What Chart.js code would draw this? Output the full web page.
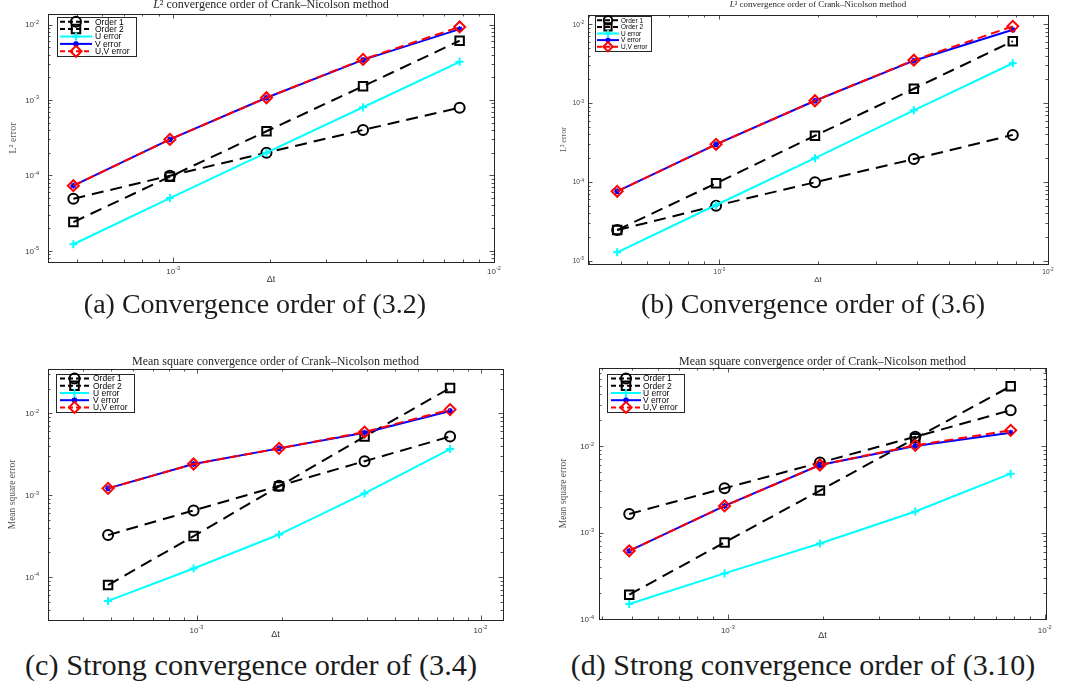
<!DOCTYPE html>
<html>
<head>
<meta charset="utf-8">
<script src="https://cdn.jsdelivr.net/npm/chart.js@4.4.1/dist/chart.umd.min.js"></script>
<style>
  html, body { margin: 0; padding: 0; background: #fff; }
  body { width: 1070px; height: 691px; position: relative; overflow: hidden; }
  .panel { position: absolute; }
  .caption {
    position: absolute; transform: translate(-50%, -50%);
    font-family: 'Liberation Serif', serif; color: #1c1c1c; white-space: nowrap;
  }
</style>
</head>
<body>
<div class="panel" style="left:0;top:0;width:535px;height:290px"><canvas id="chartA"></canvas></div>
<div class="panel" style="left:535px;top:0;width:535px;height:290px"><canvas id="chartB"></canvas></div>
<div class="panel" style="left:0;top:330px;width:535px;height:314px"><canvas id="chartC"></canvas></div>
<div class="panel" style="left:535px;top:330px;width:535px;height:314px"><canvas id="chartD"></canvas></div>

<div class="caption" style="left:255px;top:304px;font-size:28px">(a) Convergence order of (3.2)</div>
<div class="caption" style="left:813px;top:304px;font-size:28px">(b) Convergence order of (3.6)</div>
<div class="caption" style="left:251px;top:665px;font-size:30.3px">(c) Strong convergence order of (3.4)</div>
<div class="caption" style="left:803px;top:665px;font-size:30px">(d) Strong convergence order of (3.10)</div>

<script>
// time steps (1/2048 ... 1/128)
const DT = [4.883e-4, 9.766e-4, 1.953e-3, 3.906e-3, 7.813e-3];
const SERIES_LABELS = ['Order 1', 'Order 2', 'U error', 'V error', 'U,V error'];

// (a) L2 convergence, (3.2)
const A_ORDER1 = [4.9e-5, 9.9e-5, 2.0e-4, 4.0e-4, 7.9e-4];
const A_ORDER2 = [2.4e-5, 9.6e-5, 3.85e-4, 1.52e-3, 6.1e-3];
const A_UERR   = [1.22e-5, 5.0e-5, 2.0e-4, 8.0e-4, 3.2e-3];
const A_VERR   = [7.3e-5, 3.0e-4, 1.07e-3, 3.4e-3, 8.7e-3];
const A_UVERR  = [7.3e-5, 3.0e-4, 1.07e-3, 3.45e-3, 9.3e-3];
const A_X_RANGE = [4.07e-4, 1e-2];
const A_Y_RANGE = [7.1e-6, 1.38e-2];

// (b) L2 convergence, (3.6)
const B_ORDER1 = [2.45e-5, 5.0e-5, 9.9e-5, 1.95e-4, 3.95e-4];
const B_ORDER2 = [2.45e-5, 9.6e-5, 3.85e-4, 1.52e-3, 6.1e-3];
const B_UERR   = [1.28e-5, 5.1e-5, 2.0e-4, 8.1e-4, 3.2e-3];
const B_VERR   = [7.6e-5, 3.0e-4, 1.07e-3, 3.45e-3, 8.5e-3];
const B_UVERR  = [7.6e-5, 3.0e-4, 1.07e-3, 3.5e-3, 9.4e-3];
const B_X_RANGE = [3.98e-4, 1e-2];
const B_Y_RANGE = [9.1e-6, 1.31e-2];

// (c) mean square convergence, (3.4)
const C_ORDER1 = [3.25e-4, 6.5e-4, 1.3e-3, 2.6e-3, 5.2e-3];
const C_ORDER2 = [7.96e-5, 3.16e-4, 1.28e-3, 5.2e-3, 2.04e-2];
const C_UERR   = [5.1e-5, 1.27e-4, 3.3e-4, 1.05e-3, 3.66e-3];
const C_VERR   = [1.21e-3, 2.4e-3, 3.73e-3, 5.8e-3, 1.07e-2];
const C_UVERR  = [1.21e-3, 2.4e-3, 3.73e-3, 5.9e-3, 1.11e-2];
const C_X_RANGE = [3.27e-4, 1.2e-2];
const C_Y_RANGE = [2.98e-5, 3.48e-2];

// (d) mean square convergence, (3.10)
const D_ORDER1 = [1.64e-3, 3.25e-3, 6.44e-3, 1.28e-2, 2.6e-2];
const D_ORDER2 = [1.91e-4, 7.69e-4, 3.06e-3, 1.23e-2, 4.92e-2];
const D_UERR   = [1.49e-4, 3.37e-4, 7.48e-4, 1.75e-3, 4.8e-3];
const D_VERR   = [6.15e-4, 2.03e-3, 6.04e-3, 1.0e-2, 1.43e-2];
const D_UVERR  = [6.15e-4, 2.03e-3, 6.04e-3, 1.02e-2, 1.52e-2];
const D_X_RANGE = [3.92e-4, 1.01e-2];
const D_Y_RANGE = [1e-4, 8e-2];

const TITLE_L2 = [['L', 'italic '], ['\u00b2 convergence order of Crank\u2013Nicolson method', '']];
const TITLE_MS = [['Mean square convergence order of Crank\u2013Nicolson method', '']];

// line styles, same order as SERIES_LABELS
const STYLES = [
  { color: '#000000', dash: [12, 7], point: 'circle',  r: 5,   pw: 2,   order: 4 },
  { color: '#000000', dash: [12, 7], point: 'rect',    r: 6,   pw: 2,   order: 3 },
  { color: '#00ffff', dash: [],      point: 'cross',   r: 4,   pw: 2,   order: 2 },
  { color: '#0000ff', dash: [],      point: 'star',    r: 3,   pw: 1.5, order: 1 },
  { color: '#ff0000', dash: [9, 5],  point: 'rectRot', r: 5.5, pw: 2,   order: 0 }
];

const SANS = '"Liberation Sans", Arial, sans-serif';
const SERIF = '"Liberation Serif", serif';

function drawMarker(ctx, style, x, y, r, color, lw) {
  ctx.save();
  ctx.strokeStyle = color; ctx.lineWidth = lw; ctx.setLineDash([]);
  ctx.beginPath();
  if (style === 'circle') ctx.arc(x, y, r, 0, Math.PI * 2);
  else if (style === 'rect') { const s = r * Math.SQRT1_2; ctx.rect(x - s, y - s, 2 * s, 2 * s); }
  else if (style === 'rectRot') { ctx.moveTo(x, y - r); ctx.lineTo(x + r, y); ctx.lineTo(x, y + r); ctx.lineTo(x - r, y); ctx.closePath(); }
  else {
    ctx.moveTo(x, y - r); ctx.lineTo(x, y + r); ctx.moveTo(x - r, y); ctx.lineTo(x + r, y);
    if (style === 'star') {
      const d = r * Math.SQRT1_2;
      ctx.moveTo(x - d, y - d); ctx.lineTo(x + d, y + d); ctx.moveTo(x - d, y + d); ctx.lineTo(x + d, y - d);
    }
  }
  ctx.stroke();
  ctx.restore();
}

// "10" with a raised exponent; align 'right' or 'center'
function drawPow(ctx, e, x, baseY, align, size) {
  const ex = String(e);
  ctx.font = size + 'px ' + SANS;
  const w1 = ctx.measureText('10').width;
  ctx.font = (size * 0.7).toFixed(2) + 'px ' + SANS;
  const w2 = ctx.measureText(ex).width;
  const x0 = align === 'right' ? x - w1 - w2 : x - (w1 + w2) / 2;
  ctx.font = size + 'px ' + SANS;
  ctx.fillText('10', x0, baseY);
  ctx.font = (size * 0.7).toFixed(2) + 'px ' + SANS;
  ctx.fillText(ex, x0 + w1, baseY - size * 0.42);
}

// box, inward ticks, tick labels, title and legend in the MATLAB look
const framePlugin = {
  id: 'frame',
  afterDraw(chart, args, opts) {
    const { ctx, chartArea: a } = chart;
    const xs = chart.scales.x, ys = chart.scales.y;
    ctx.save();
    ctx.strokeStyle = '#262626';
    ctx.lineWidth = 0.8;

    const eachLogTick = (scale, fn) => {
      const lo = Math.floor(Math.log10(scale.min)), hi = Math.ceil(Math.log10(scale.max));
      for (let e = lo; e <= hi; e++) {
        for (let k = 1; k <= 9; k++) {
          const v = k * Math.pow(10, e);
          if (v < scale.min * 0.9999 || v > scale.max * 1.0001) continue;
          fn(scale.getPixelForValue(v), k === 1, e);
        }
      }
    };
    ctx.beginPath();
    eachLogTick(xs, (px, major) => {
      const p = Math.round(px) + 0.5, len = major ? 4.5 : 2.5;
      ctx.moveTo(p, a.bottom); ctx.lineTo(p, a.bottom - len);
      ctx.moveTo(p, a.top); ctx.lineTo(p, a.top + len);
    });
    eachLogTick(ys, (px, major) => {
      const p = Math.round(px) + 0.5, len = major ? 4.5 : 2.5;
      ctx.moveTo(a.left, p); ctx.lineTo(a.left + len, p);
      ctx.moveTo(a.right, p); ctx.lineTo(a.right - len, p);
    });
    ctx.stroke();

    ctx.lineWidth = 1;
    ctx.strokeRect(Math.round(a.left) + 0.5, Math.round(a.top) + 0.5,
      Math.round(a.right - a.left), Math.round(a.bottom - a.top));

    // tick labels at the decades
    ctx.fillStyle = '#3a3a3a';
    ctx.textBaseline = 'alphabetic';
    ctx.textAlign = 'left';
    const ts = opts.tickSize;
    eachLogTick(xs, (px, major, e) => {
      if (major) drawPow(ctx, e, px, a.bottom + opts.xLabOff, 'center', ts);
    });
    eachLogTick(ys, (px, major, e) => {
      if (major) drawPow(ctx, e, a.left - opts.yLabPad, px + ts * 0.36, 'right', ts);
    });

    // title
    ctx.fillStyle = '#262626';
    ctx.textBaseline = 'middle';
    let total = 0;
    opts.title.forEach(([t, st]) => { ctx.font = st + opts.titleSize + 'px ' + SERIF; total += ctx.measureText(t).width; });
    let tx = (a.left + a.right) / 2 - total / 2;
    const ty = a.top - opts.titleGap;
    opts.title.forEach(([t, st]) => {
      ctx.font = st + opts.titleSize + 'px ' + SERIF;
      ctx.fillText(t, tx, ty);
      tx += ctx.measureText(t).width;
    });

    // legend
    const L = opts.legend;
    const bx = Math.round(a.left + L.x), by = Math.round(a.top + L.y);
    ctx.fillStyle = '#ffffff';
    ctx.fillRect(bx, by, L.w, L.h);
    ctx.strokeStyle = '#262626';
    ctx.lineWidth = 1;
    ctx.strokeRect(bx + 0.5, by + 0.5, L.w, L.h);
    const rowH = (L.h - 2) / chart.data.datasets.length;
    chart.data.datasets.forEach((ds, i) => {
      const y = by + 1 + rowH * (i + 0.5);
      const x0 = bx + L.s0, x1 = bx + L.s1;
      ctx.save();
      ctx.strokeStyle = ds.borderColor;
      ctx.lineWidth = ds.borderWidth;
      ctx.setLineDash(ds.borderDash.length ? [5, 3] : []);
      ctx.beginPath(); ctx.moveTo(x0, y); ctx.lineTo(x1, y); ctx.stroke();
      ctx.restore();
      drawMarker(ctx, ds.pointStyle, (x0 + x1) / 2, y, ds.pointRadius * L.ms, ds.borderColor, ds.pointBorderWidth);
      ctx.fillStyle = '#000000';
      ctx.font = L.font + 'px ' + SANS;
      ctx.fillText(ds.label, bx + L.tx, y + 0.5);
    });
    ctx.restore();
  }
};

function buildDatasets(series) {
  return series.map((vals, i) => {
    const st = STYLES[i];
    return {
      label: SERIES_LABELS[i],
      data: DT.map((x, j) => ({ x: x, y: vals[j] })),
      borderColor: st.color,
      borderWidth: 2,
      borderDash: st.dash,
      pointStyle: st.point,
      pointRadius: st.r,
      pointBorderWidth: st.pw,
      pointBorderColor: st.color,
      pointBackgroundColor: 'rgba(0,0,0,0)',
      tension: 0,
      order: st.order
    };
  });
}

function makeChart(p) {
  return new Chart(document.getElementById(p.id), {
    type: 'line',
    data: { datasets: buildDatasets(p.series) },
    options: {
      responsive: true,
      maintainAspectRatio: false,
      animation: false,
      devicePixelRatio: 1,
      layout: { padding: { top: p.padTop, right: p.padRight, left: 0, bottom: 0 } },
      plugins: {
        legend: { display: false },
        tooltip: { enabled: false },
        frame: { title: p.title, titleSize: p.titleSize, titleGap: p.titleGap, legend: p.legend,
          tickSize: p.tickSize, xLabOff: p.xLabOff, yLabPad: p.yLabPad }
      },
      scales: {
        x: {
          type: 'logarithmic', min: p.xRange[0], max: p.xRange[1],
          afterFit: s => { s.height = p.xAxisH; },
          grid: { display: false, drawTicks: false },
          border: { display: false },
          ticks: { display: false },
          title: { display: true, text: '\u0394t', color: '#333333',
            font: { family: SANS, size: p.labelSize }, padding: { top: 0, bottom: p.xTitlePad } }
        },
        y: {
          type: 'logarithmic', min: p.yRange[0], max: p.yRange[1],
          afterFit: s => { s.width = p.yAxisW; },
          grid: { display: false, drawTicks: false },
          border: { display: false },
          ticks: { display: false },
          title: { display: true, text: p.yLabel, color: '#555555',
            font: { family: SERIF, size: p.yLabelSize }, padding: { top: p.yTitlePad, bottom: 0 } }
        }
      }
    },
    plugins: [framePlugin]
  });
}

const PANELS = [
  { id: 'chartA', series: [A_ORDER1, A_ORDER2, A_UERR, A_VERR, A_UVERR], xRange: A_X_RANGE, yRange: A_Y_RANGE,
    title: TITLE_L2, titleSize: 12, titleGap: 9, yLabel: 'L\u00b2 error', yLabelSize: 10,
    padTop: 14, padRight: 41, yAxisW: 48, xAxisH: 28, xTitlePad: 5, yTitlePad: 7,
    tickSize: 8, xLabOff: 11.5, yLabPad: 9, labelSize: 9,
    legend: { x: 9, y: 3, w: 79, h: 39, s0: 3, s1: 35, tx: 38, font: 8.5, ms: 1 } },
  { id: 'chartB', series: [B_ORDER1, B_ORDER2, B_UERR, B_VERR, B_UVERR], xRange: B_X_RANGE, yRange: B_Y_RANGE,
    title: TITLE_L2, titleSize: 9, titleGap: 10, yLabel: 'L\u00b2 error', yLabelSize: 8,
    padTop: 15, padRight: 22, yAxisW: 53, xAxisH: 26, xTitlePad: 5, yTitlePad: 24,
    tickSize: 6.5, xLabOff: 10, yLabPad: 4, labelSize: 8,
    legend: { x: 7, y: 1, w: 56, h: 35, s0: 2, s1: 24, tx: 26, font: 6.5, ms: 0.85 } },
  { id: 'chartC', series: [C_ORDER1, C_ORDER2, C_UERR, C_VERR, C_UVERR], xRange: C_X_RANGE, yRange: C_Y_RANGE,
    title: TITLE_MS, titleSize: 12, titleGap: 7, yLabel: 'Mean square error', yLabelSize: 9.5,
    padTop: 39, padRight: 32, yAxisW: 48, xAxisH: 24, xTitlePad: 4, yTitlePad: 7,
    tickSize: 8, xLabOff: 12.5, yLabPad: 9, labelSize: 9,
    legend: { x: 8, y: 5, w: 78, h: 38, s0: 4, s1: 33, tx: 37, font: 8.5, ms: 1 } },
  { id: 'chartD', series: [D_ORDER1, D_ORDER2, D_UERR, D_VERR, D_UVERR], xRange: D_X_RANGE, yRange: D_Y_RANGE,
    title: TITLE_MS, titleSize: 12, titleGap: 6, yLabel: 'Mean square error', yLabelSize: 9.5,
    padTop: 38, padRight: 24, yAxisW: 64, xAxisH: 25, xTitlePad: 3, yTitlePad: 23,
    tickSize: 8, xLabOff: 13.5, yLabPad: 5, labelSize: 9,
    legend: { x: 8, y: 6, w: 77, h: 38, s0: 4, s1: 34, tx: 36, font: 8.5, ms: 1 } }
];

PANELS.forEach(makeChart);
</script>
</body>
</html>
